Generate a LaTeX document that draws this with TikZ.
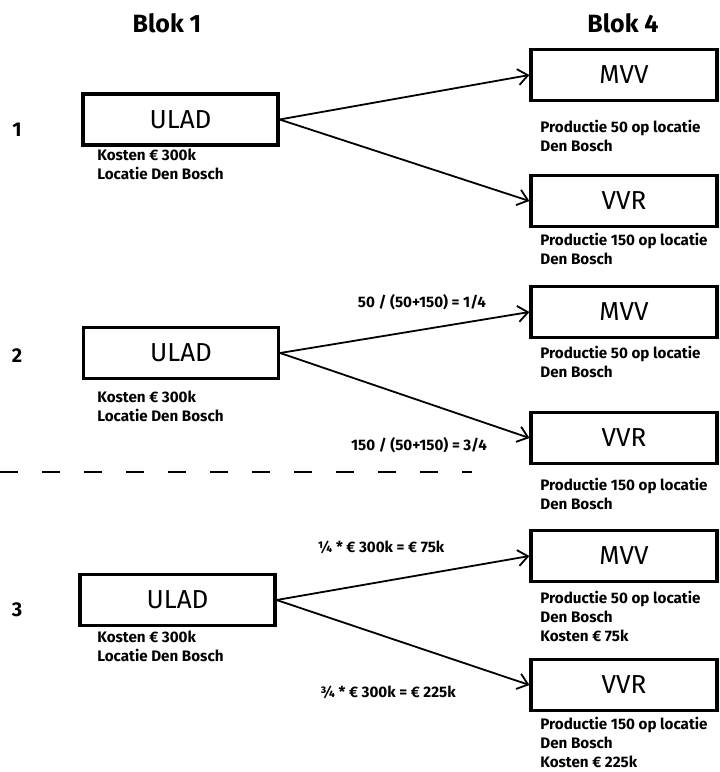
\documentclass[tikz,border=0pt]{standalone}
\usepackage{fontspec}
\setmainfont{Fira Sans}
\usetikzlibrary{arrows.meta}

\tikzset{
  blok/.style={draw,line width=1.6pt,minimum height=25.5pt,inner sep=0pt,font=\fontsize{13}{15}\selectfont},
  links/.style={blok,minimum width=97.5pt},
  rechts/.style={blok,minimum width=93pt},
  info/.style={anchor=north west,align=left,inner sep=0pt,font=\bfseries\fontsize{7.6}{9.5}\selectfont},
  kop/.style={font=\bfseries\fontsize{12.5}{14}\selectfont},
  nr/.style={font=\bfseries\fontsize{10}{12}\selectfont},
  pijl/.style={-{Straight Barb[length=5pt,width=8pt]},line width=0.9pt},
}

\begin{document}
\begin{tikzpicture}[x=0.5pt,y=-0.5pt]
\useasboundingbox (0,0) rectangle (719,772);

\node (blok1)	at (167,23)	[kop] {Blok 1};
\node (blok4)	at (623,23)	[kop] {Blok 4};

\node (nr1)	at (17,130)	[nr] {1};
\node (nr2)	at (17,356)	[nr] {2};
\node (nr3)	at (17,610)	[nr] {3};

% stap 1
\node (ulad1)	at (180.5,119.5)	[links] {ULAD};
\node (ulad1info)	at (97,149)	[info] {Kosten € 300k\\Locatie Den Bosch};
\node (mvv1)	at (624,75)	[rechts] {MVV};
\node (mvv1info)	at (540,120)	[info] {Productie 50 op locatie\\Den Bosch};
\node (vvr1)	at (624,201)	[rechts] {VVR};
\node (vvr1info)	at (540,233)	[info] {Productie 150 op locatie\\Den Bosch};
\draw [pijl] (ulad1.east) to (mvv1.west);
\draw [pijl] (ulad1.east) to (vvr1.west);

% stap 2
\node (ulad2)	at (181,353)	[links] {ULAD};
\node (ulad2info)	at (97,391)	[info] {Kosten € 300k\\Locatie Den Bosch};
\node (mvv2)	at (624,312)	[rechts] {MVV};
\node (mvv2info)	at (540,346)	[info] {Productie 50 op locatie\\Den Bosch};
\node (vvr2)	at (624,438)	[rechts] {VVR};
\node (vvr2info)	at (540,478)	[info] {Productie 150 op locatie\\Den Bosch};
\node (deel_mvv2)	at (422,302)	[info,anchor=center] {50 / (50+150) = 1/4};
\node (deel_vvr2)	at (419,445)	[info,anchor=center] {150 / (50+150) = 3/4};
\draw [pijl] (ulad2.east) to (mvv2.west);
\draw [pijl] (ulad2.east) to (vvr2.west);

\draw [line width=0.9pt,dash pattern=on 9pt off 12pt] (0,472) -- (472,472);

% stap 3
\node (ulad3)	at (177.5,600)	[links] {ULAD};
\node (ulad3info)	at (97,631)	[info] {Kosten € 300k\\Locatie Den Bosch};
\node (mvv3)	at (624,556)	[rechts] {MVV};
\node (mvv3info)	at (540,591)	[info] {Productie 50 op locatie\\Den Bosch\\Kosten € 75k};
\node (vvr3)	at (624,685)	[rechts] {VVR};
\node (vvr3info)	at (540,717)	[info] {Productie 150 op locatie\\Den Bosch\\Kosten € 225k};
\node (kost_mvv3)	at (381,547)	[info,anchor=center] {¼ * € 300k = € 75k};
\node (kost_vvr3)	at (388,692)	[info,anchor=center] {¾ * € 300k = € 225k};
\draw [pijl] (ulad3.east) to (mvv3.west);
\draw [pijl] (ulad3.east) to (vvr3.west);

\end{tikzpicture}
\end{document}
